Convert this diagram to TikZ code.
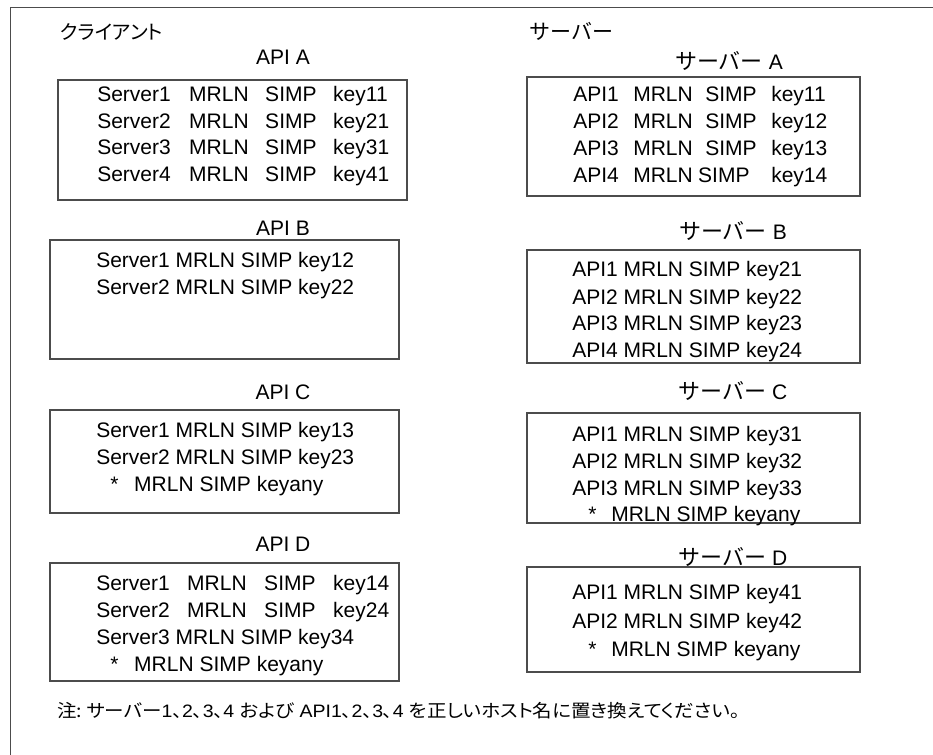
\documentclass[tikz,border=0pt]{standalone}
\usepackage{fontspec}
\usepackage{graphicx}
\setmainfont{Liberation Sans}
\newfontfamily\jp{Noto Sans CJK JP}
\newfontfamily\jpp[RawFeature=+palt]{Noto Sans CJK JP}
\usetikzlibrary{fit}
\newcommand{\fourcol}[7]{\makebox[#1][l]{#4}\makebox[#2][l]{#5}\makebox[#3][l]{#6}#7}
\begin{document}
\begin{tikzpicture}[x=0.75pt,y=-0.75pt,
  frame/.style={draw=black!70, line width=1.1pt},
  box/.style={draw=black!70, line width=0.9pt, inner sep=0pt},
  txt/.style={anchor=base west, inner sep=0pt, font=\fontsize{15.75}{18}\selectfont},
  lbl/.style={anchor=base, inner sep=0pt, font=\fontsize{15.75}{18}\selectfont},
  head/.style={anchor=base west, inner sep=0pt},
]
\useasboundingbox (0,0) rectangle (933,755);
% outer frame (left and top edges)
\coordinate (fbl) at (10.5,755);
\coordinate (ftl) at (10.5,7.5);
\coordinate (ftr) at (933,7.5);
\draw[frame] (fbl) -- (ftl) -- (ftr);

% headers
\node[head] (hclient) at (60,39.5) {\resizebox{77pt}{!}{\jpp\fontsize{15}{17}\selectfont クライアント}};
\node[head, font=\jp\fontsize{15.75}{18}\selectfont] (hserver) at (529,40) {サーバー};

% client boxes
\node[box, fit={(58,80) (407,200)}] (boxA) {};
\node[box, fit={(50,240) (399,359)}] (boxB) {};
\node[box, fit={(50,410) (399,513)}] (boxC) {};
\node[box, fit={(50,563) (399,681)}] (boxD) {};
% server boxes
\node[box, fit={(527,77) (860,196)}] (sboxA) {};
\node[box, fit={(527,250) (860,363)}] (sboxB) {};
\node[box, fit={(527,413) (860,523)}] (sboxC) {};
\node[box, fit={(527,567) (860,672)}] (sboxD) {};

% client labels
\node[lbl] (labA) at (283,65) {API A};
\node[lbl] (labB) at (283,236) {API B};
\node[lbl] (labC) at (283,400) {API C};
\node[lbl] (labD) at (283,552) {API D};
% server labels
\node[lbl] (slabA) at (729,70) {{\jp\fontsize{16.5}{18}\selectfont サーバー} A};
\node[lbl] (slabB) at (733,240) {{\jp\fontsize{16.5}{18}\selectfont サーバー} B};
\node[lbl] (slabC) at (733,400) {{\jp\fontsize{16.5}{18}\selectfont サーバー} C};
\node[lbl] (slabD) at (733,566) {{\jp\fontsize{16.5}{18}\selectfont サーバー} D};

% API A contents
\node[txt] (a1) at (97,102) {\fourcol{69pt}{57pt}{51pt}{Server1}{MRLN}{SIMP}{key11}};
\node[txt] (a2) at (97,128.5) {\fourcol{69pt}{57pt}{51pt}{Server2}{MRLN}{SIMP}{key21}};
\node[txt] (a3) at (97,155) {\fourcol{69pt}{57pt}{51pt}{Server3}{MRLN}{SIMP}{key31}};
\node[txt] (a4) at (97,181.5) {\fourcol{69pt}{57pt}{51pt}{Server4}{MRLN}{SIMP}{key41}};

% API B contents
\node[txt] (b1) at (96,268) {Server1 MRLN SIMP key12};
\node[txt] (b2) at (96,295) {Server2 MRLN SIMP key22};

% API C contents
\node[txt] (c1) at (96,438) {Server1 MRLN SIMP key13};
\node[txt] (c2) at (96,465) {Server2 MRLN SIMP key23};
\node[txt] (c3) at (110,492) {\makebox[18pt][l]{*}MRLN SIMP keyany};

% API D contents
\node[txt] (d1) at (96,591) {\fourcol{68.25pt}{57.75pt}{51.75pt}{Server1}{MRLN}{SIMP}{key14}};
\node[txt] (d2) at (96,618) {\fourcol{68.25pt}{57.75pt}{51.75pt}{Server2}{MRLN}{SIMP}{key24}};
\node[txt] (d3) at (96,645) {Server3 MRLN SIMP key34};
\node[txt] (d4) at (110,672) {\makebox[18pt][l]{*}MRLN SIMP keyany};

% Server A contents
\node[txt] (sa1) at (573,102) {\fourcol{45pt}{54pt}{49.5pt}{API1}{MRLN}{SIMP}{key11}};
\node[txt] (sa2) at (573,129) {\fourcol{45pt}{54pt}{49.5pt}{API2}{MRLN}{SIMP}{key12}};
\node[txt] (sa3) at (573,156) {\fourcol{45pt}{54pt}{49.5pt}{API3}{MRLN}{SIMP}{key13}};
\node[txt] (sa4) at (573,183) {\fourcol{45pt}{48.75pt}{54.75pt}{API4}{MRLN}{SIMP}{key14}};

% Server B contents
\node[txt] (sb1) at (572,277) {API1 MRLN SIMP key21};
\node[txt] (sb2) at (572,305) {API2 MRLN SIMP key22};
\node[txt] (sb3) at (572,331) {API3 MRLN SIMP key23};
\node[txt] (sb4) at (572,358) {API4 MRLN SIMP key24};

% Server C contents
\node[txt] (sc1) at (572,442) {API1 MRLN SIMP key31};
\node[txt] (sc2) at (572,469) {API2 MRLN SIMP key32};
\node[txt] (sc3) at (572,496) {API3 MRLN SIMP key33};
\node[txt] (sc4) at (588,522) {\makebox[17.25pt][l]{*}MRLN SIMP keyany};

% Server D contents
\node[txt] (sd1) at (572,600) {API1 MRLN SIMP key41};
\node[txt] (sd2) at (572,629) {API2 MRLN SIMP key42};
\node[txt] (sd3) at (588,657) {\makebox[17.25pt][l]{*}MRLN SIMP keyany};

% note
\node[head, font=\fontsize{13.5}{16}\selectfont] (note) at (57,717)
  {\resizebox{512pt}{\height}{{\jpp 注:\ サーバー}1{\jpp 、}2{\jpp 、}3{\jpp 、}4 {\jpp および} API1{\jpp 、}2{\jpp 、}3{\jpp 、}4 {\jpp を正しいホスト名に置き換えてください。}}};
\end{tikzpicture}
\end{document}
